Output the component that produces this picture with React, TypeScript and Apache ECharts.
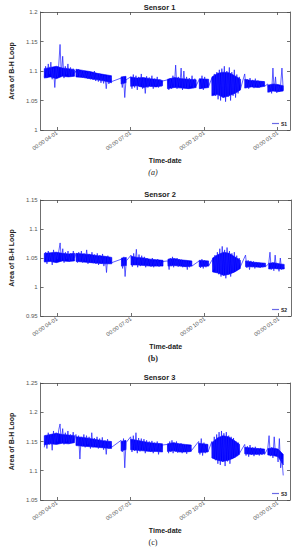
import React, { useEffect, useRef } from "react";
import * as echarts from "echarts";

// x in months from 04-01 (0 = 04-01, 3 = 07-01, 6 = 10-01, 9 = 01-01)
const TICK_VALUES = [0, 3, 6, 9];
const TICK_LABELS = ["00:00 04-01", "00:00 07-01", "00:00 10-01", "00:00 01-01"];
const SENSOR_NAMES = ["S1", "S2", "S3"];
const TITLES = ["Sensor 1", "Sensor 2", "Sensor 3"];
const CAPTIONS = ["(a)", "(b)", "(c)"];
const Y_RANGES = [
  [1.0, 1.2],
  [0.95, 1.15],
  [1.05, 1.25],
];

// recording spans (months) per sensor
const S1_SPANS = [
  [-0.51, 0.72], [0.78, 2.23], [2.62, 2.82], [3.01, 4.31], [4.51, 5.68],
  [5.81, 6.19], [6.32, 7.49], [7.66, 8.47], [8.6, 9.23],
];
const S2_SPANS = [
  [-0.51, 0.72], [0.78, 2.23], [2.62, 2.82], [3.01, 4.31], [4.51, 5.48],
  [5.78, 6.16], [6.32, 7.45], [7.66, 8.47], [8.6, 9.23],
];
const S3_SPANS = [
  [-0.51, 0.72], [0.78, 2.23], [2.62, 2.82], [3.01, 4.31], [4.51, 5.48],
  [5.78, 6.16], [6.32, 7.45], [7.66, 8.47], [8.6, 9.23],
];

// dense core band (lower / upper envelope) per recording span
const S1_LOW = [
  [1.088, 1.09, 1.087, 1.091, 1.09, 1.091],
  [1.09, 1.089, 1.087, 1.085, 1.083, 1.08],
  [1.078, 1.08],
  [1.074, 1.075, 1.072, 1.074, 1.073, 1.075],
  [1.07, 1.072, 1.071, 1.07, 1.072],
  [1.07, 1.072],
  [1.058, 1.06, 1.055, 1.058, 1.062, 1.068],
  [1.071, 1.073, 1.072, 1.074],
  [1.064, 1.066, 1.065, 1.066],
];
const S1_HIGH = [
  [1.104, 1.106, 1.108, 1.105, 1.104, 1.102],
  [1.103, 1.101, 1.099, 1.096, 1.094, 1.092],
  [1.09, 1.091],
  [1.09, 1.088, 1.089, 1.087, 1.086, 1.084],
  [1.086, 1.089, 1.087, 1.086, 1.085],
  [1.087, 1.086],
  [1.09, 1.096, 1.098, 1.097, 1.092, 1.086],
  [1.086, 1.084, 1.083, 1.082],
  [1.076, 1.078, 1.077, 1.075],
];
const S2_LOW = [
  [1.043, 1.044, 1.042, 1.045, 1.044, 1.045],
  [1.044, 1.043, 1.042, 1.041, 1.04, 1.04],
  [1.036, 1.037],
  [1.038, 1.038, 1.037, 1.036, 1.036, 1.036],
  [1.036, 1.037, 1.036, 1.035, 1.036],
  [1.035, 1.036],
  [1.026, 1.024, 1.02, 1.022, 1.026, 1.032],
  [1.035, 1.035, 1.034, 1.035],
  [1.031, 1.032, 1.031, 1.031],
];
const S2_HIGH = [
  [1.058, 1.059, 1.06, 1.058, 1.057, 1.058],
  [1.058, 1.057, 1.056, 1.054, 1.053, 1.051],
  [1.05, 1.051],
  [1.053, 1.051, 1.05, 1.048, 1.047, 1.046],
  [1.048, 1.049, 1.047, 1.046, 1.045],
  [1.046, 1.045],
  [1.05, 1.056, 1.06, 1.058, 1.052, 1.046],
  [1.045, 1.043, 1.042, 1.041],
  [1.041, 1.042, 1.04, 1.039],
];
const S3_LOW = [
  [1.144, 1.146, 1.145, 1.147, 1.146, 1.148],
  [1.143, 1.142, 1.141, 1.14, 1.139, 1.138],
  [1.134, 1.136],
  [1.136, 1.135, 1.134, 1.133, 1.133, 1.132],
  [1.133, 1.134, 1.132, 1.132, 1.133],
  [1.131, 1.132],
  [1.122, 1.118, 1.116, 1.118, 1.122, 1.128],
  [1.129, 1.128, 1.128, 1.129],
  [1.127, 1.126, 1.124, 1.11],
];
const S3_HIGH = [
  [1.16, 1.162, 1.164, 1.162, 1.161, 1.16],
  [1.158, 1.157, 1.155, 1.153, 1.151, 1.15],
  [1.15, 1.152],
  [1.154, 1.152, 1.15, 1.148, 1.147, 1.146],
  [1.146, 1.148, 1.146, 1.145, 1.144],
  [1.147, 1.145],
  [1.148, 1.156, 1.16, 1.158, 1.152, 1.145],
  [1.14, 1.139, 1.138, 1.137],
  [1.138, 1.139, 1.137, 1.128],
];

// raw readings (spikes around the core)
const S1_VALUES = [
  [1.09, 1.108, 1.088, 1.112, 1.095, 1.115, 1.086, 1.104, 1.072, 1.106, 1.09, 1.11, 1.145, 1.092, 1.125, 1.088, 1.108, 1.094, 1.112, 1.09, 1.106, 1.092, 1.104, 1.096],
  [1.1, 1.092, 1.103, 1.09, 1.101, 1.089, 1.1, 1.088, 1.098, 1.087, 1.099, 1.086, 1.097, 1.085, 1.1, 1.083, 1.096, 1.082, 1.095, 1.08, 1.094, 1.079, 1.092, 1.07, 1.093, 1.078, 1.09, 1.082],
  [1.088, 1.072, 1.09, 1.055, 1.085],
  [1.09, 1.07, 1.094, 1.072, 1.092, 1.068, 1.09, 1.073, 1.095, 1.07, 1.088, 1.062, 1.091, 1.072, 1.089, 1.074, 1.092, 1.07, 1.087, 1.075, 1.09, 1.072, 1.086, 1.074, 1.083],
  [1.085, 1.068, 1.088, 1.07, 1.092, 1.072, 1.11, 1.07, 1.09, 1.074, 1.105, 1.068, 1.1, 1.072, 1.09, 1.07, 1.088, 1.074, 1.092, 1.071, 1.087, 1.075],
  [1.086, 1.07, 1.092, 1.068, 1.09, 1.072, 1.085, 1.074],
  [1.088, 1.062, 1.095, 1.058, 1.098, 1.052, 1.102, 1.05, 1.104, 1.055, 1.108, 1.048, 1.1, 1.056, 1.106, 1.05, 1.098, 1.058, 1.102, 1.055, 1.094, 1.062, 1.09, 1.07],
  [1.095, 1.072, 1.086, 1.07, 1.088, 1.073, 1.085, 1.071, 1.087, 1.074, 1.084, 1.072, 1.083, 1.075, 1.082, 1.074],
  [1.078, 1.064, 1.076, 1.062, 1.105, 1.066, 1.09, 1.063, 1.075, 1.065, 1.077, 1.105, 1.068],
];
const S2_VALUES = [
  [1.045, 1.06, 1.04, 1.062, 1.046, 1.058, 1.038, 1.064, 1.044, 1.06, 1.048, 1.062, 1.076, 1.046, 1.066, 1.042, 1.06, 1.048, 1.062, 1.044, 1.058, 1.046, 1.062, 1.05],
  [1.058, 1.042, 1.06, 1.044, 1.062, 1.042, 1.058, 1.045, 1.064, 1.04, 1.057, 1.043, 1.06, 1.041, 1.056, 1.04, 1.058, 1.038, 1.055, 1.04, 1.057, 1.036, 1.052, 1.025, 1.054, 1.04, 1.05, 1.042],
  [1.048, 1.032, 1.052, 1.018, 1.045],
  [1.055, 1.035, 1.058, 1.038, 1.065, 1.034, 1.056, 1.036, 1.054, 1.038, 1.052, 1.034, 1.05, 1.037, 1.048, 1.035, 1.05, 1.034, 1.046, 1.036, 1.048, 1.035, 1.045, 1.037, 1.044],
  [1.045, 1.03, 1.05, 1.036, 1.052, 1.034, 1.049, 1.037, 1.05, 1.035, 1.048, 1.036, 1.047, 1.034, 1.046, 1.035, 1.045, 1.03, 1.044, 1.034, 1.043, 1.036],
  [1.045, 1.033, 1.048, 1.032, 1.046, 1.034, 1.044, 1.036],
  [1.048, 1.03, 1.055, 1.025, 1.06, 1.022, 1.066, 1.018, 1.07, 1.02, 1.064, 1.015, 1.068, 1.022, 1.062, 1.018, 1.058, 1.025, 1.06, 1.028, 1.054, 1.03, 1.05, 1.035],
  [1.055, 1.033, 1.046, 1.03, 1.045, 1.034, 1.044, 1.032, 1.043, 1.035, 1.042, 1.033, 1.041, 1.034, 1.04, 1.035],
  [1.04, 1.06, 1.03, 1.042, 1.028, 1.055, 1.032, 1.04, 1.027, 1.05, 1.03, 1.038, 1.032],
];
const S3_VALUES = [
  [1.14, 1.16, 1.138, 1.165, 1.145, 1.162, 1.135, 1.168, 1.146, 1.165, 1.15, 1.17, 1.18, 1.148, 1.172, 1.145, 1.165, 1.15, 1.168, 1.146, 1.162, 1.148, 1.166, 1.152],
  [1.162, 1.145, 1.16, 1.12, 1.158, 1.142, 1.162, 1.14, 1.16, 1.145, 1.158, 1.138, 1.165, 1.14, 1.156, 1.142, 1.158, 1.138, 1.155, 1.14, 1.157, 1.136, 1.152, 1.128, 1.154, 1.138, 1.15, 1.14],
  [1.152, 1.132, 1.155, 1.105, 1.148],
  [1.158, 1.132, 1.16, 1.134, 1.165, 1.13, 1.156, 1.133, 1.155, 1.135, 1.154, 1.13, 1.152, 1.134, 1.15, 1.132, 1.151, 1.13, 1.148, 1.134, 1.15, 1.128, 1.146, 1.133, 1.144],
  [1.145, 1.13, 1.15, 1.132, 1.152, 1.13, 1.148, 1.133, 1.15, 1.131, 1.146, 1.132, 1.147, 1.13, 1.145, 1.133, 1.144, 1.129, 1.143, 1.132, 1.142, 1.134],
  [1.15, 1.128, 1.155, 1.126, 1.148, 1.13, 1.145, 1.132],
  [1.15, 1.122, 1.158, 1.118, 1.162, 1.112, 1.166, 1.11, 1.168, 1.115, 1.164, 1.108, 1.166, 1.116, 1.16, 1.112, 1.158, 1.12, 1.156, 1.122, 1.15, 1.125, 1.148, 1.13],
  [1.145, 1.126, 1.142, 1.124, 1.144, 1.127, 1.14, 1.125, 1.141, 1.128, 1.138, 1.126, 1.139, 1.127, 1.136, 1.128],
  [1.138, 1.16, 1.125, 1.14, 1.122, 1.158, 1.128, 1.136, 1.115, 1.155, 1.105, 1.12, 1.092],
];

const ALL_SPANS = [S1_SPANS, S2_SPANS, S3_SPANS];
const ALL_VALUES = [S1_VALUES, S2_VALUES, S3_VALUES];
const ALL_LOW = [S1_LOW, S2_LOW, S3_LOW];
const ALL_HIGH = [S1_HIGH, S2_HIGH, S3_HIGH];

function spread(spans: number[][], segs: number[][]) {
  const out: number[][] = [];
  segs.forEach((vals, k) => {
    const [a, b] = spans[k];
    vals.forEach((v, i) => {
      out.push([a + ((b - a) * i) / (vals.length - 1), v]);
    });
  });
  return out;
}

const GRIDS = [
  { left: 29, top: 12, width: 261, height: 118 },
  { left: 29, top: 200, width: 262, height: 116 },
  { left: 29, top: 383, width: 261, height: 117 },
];
const TITLE_TOPS = [3, 190, 373];
const CAPTION_YS = [172, 358, 542];
const LEGEND_TOPS = [121, 307, 491];

const X_MIN = -0.662;
const X_MAX = 9.506;
const AXIS_COLOR = "#4a4a4a";
const BLUE = "#0000ff";
const LEGEND_BLUE = "#6a6ae6";
const FONT = "Arial, 'Liberation Sans', sans-serif";

export default function App() {
  const ref = useRef<HTMLDivElement>(null);
  useEffect(() => {
    if (!ref.current) return;
    const chart = echarts.init(ref.current, undefined, { renderer: "svg" });
    const xAxis: any[] = [];
    const yAxis: any[] = [];
    const series: any[] = [];
    const title: any[] = [];
    const legend: any[] = [];
    const graphic: any[] = [];
    GRIDS.forEach((g, k) => {
      const tickStyle = { show: true, inside: true, length: 3, lineStyle: { color: AXIS_COLOR, width: 0.8 } };
      const lineStyle = { show: true, onZero: false, lineStyle: { color: AXIS_COLOR, width: 0.8 } };
      xAxis.push({
        type: "value",
        gridIndex: k,
        min: X_MIN,
        max: X_MAX,
        position: "bottom",
        axisLine: lineStyle,
        axisTick: { ...tickStyle, customValues: TICK_VALUES },
        axisLabel: {
          customValues: TICK_VALUES,
          formatter: (v: number) => TICK_LABELS[TICK_VALUES.indexOf(Math.round(v))] ?? "",
          rotate: 35,
          fontSize: 5.5,
          color: "#555",
          margin: 2,
          fontFamily: FONT,
        },
        splitLine: { show: false },
        name: "Time-date",
        nameLocation: "middle",
        nameGap: 27,
        nameTextStyle: { fontWeight: "bold", fontSize: 7, color: "#222", fontFamily: FONT },
      });
      xAxis.push({
        type: "value",
        gridIndex: k,
        min: X_MIN,
        max: X_MAX,
        position: "top",
        axisLine: lineStyle,
        axisTick: { ...tickStyle, customValues: TICK_VALUES },
        axisLabel: { show: false },
        splitLine: { show: false },
      });
      const [ymin, ymax] = Y_RANGES[k];
      yAxis.push({
        type: "value",
        gridIndex: k,
        min: ymin,
        max: ymax,
        interval: 0.05,
        position: "left",
        axisLine: lineStyle,
        axisTick: tickStyle,
        axisLabel: { fontSize: 6, color: "#555", margin: 3, fontFamily: FONT },
        splitLine: { show: false },
        name: "Area of B-H Loop",
        nameLocation: "middle",
        nameGap: 15,
        nameRotate: 90,
        nameTextStyle: { fontWeight: "bold", fontSize: 7, color: "#222", fontFamily: FONT },
      });
      yAxis.push({
        type: "value",
        gridIndex: k,
        min: ymin,
        max: ymax,
        interval: 0.05,
        position: "right",
        axisLine: lineStyle,
        axisTick: tickStyle,
        axisLabel: { show: false },
        splitLine: { show: false },
      });
      const spans = ALL_SPANS[k];
      const lows = ALL_LOW[k];
      const highs = ALL_HIGH[k];
      series.push({
        name: SENSOR_NAMES[k] + " core",
        type: "custom",
        xAxisIndex: 2 * k,
        yAxisIndex: 2 * k,
        silent: true,
        data: spans.map((sp, s) => [(sp[0] + sp[1]) / 2, lows[s][0], s]),
        renderItem: (params: any, api: any) => {
          const s = api.value(2);
          const [a, b] = spans[s];
          const lo = lows[s];
          const hi = highs[s];
          const n = lo.length;
          const pts: number[][] = [];
          for (let i = 0; i < n; i++) pts.push(api.coord([a + ((b - a) * i) / (n - 1), hi[i]]));
          for (let i = n - 1; i >= 0; i--) pts.push(api.coord([a + ((b - a) * i) / (n - 1), lo[i]]));
          return {
            type: "polygon",
            shape: { points: pts },
            style: { fill: BLUE, stroke: BLUE, lineWidth: 0.6 },
          };
        },
      });
      series.push({
        name: SENSOR_NAMES[k],
        type: "line",
        color: BLUE,
        xAxisIndex: 2 * k,
        yAxisIndex: 2 * k,
        data: spread(spans, ALL_VALUES[k]),
        showSymbol: false,
        symbol: "circle",
        lineStyle: { color: "#1a1aff", width: 0.7 },
        itemStyle: { color: BLUE },
      });
      title.push({
        text: TITLES[k],
        left: g.left + g.width / 2,
        textAlign: "center",
        top: TITLE_TOPS[k],
        textStyle: { fontSize: 7.5, fontWeight: "bold", color: "#222", fontFamily: FONT },
        padding: 0,
      });
      legend.push({
        data: [{ name: SENSOR_NAMES[k], icon: "rect", itemStyle: { color: LEGEND_BLUE } }],
        left: 272,
        top: LEGEND_TOPS[k],
        itemWidth: 7,
        itemHeight: 1.2,
        itemGap: 0,
        padding: 0,
        itemStyle: { color: LEGEND_BLUE, borderWidth: 0 },
        lineStyle: { color: LEGEND_BLUE, width: 1 },
        textStyle: { fontSize: 5, fontWeight: "bold", color: "#222", padding: [0, 0, 0, -3], fontFamily: FONT },
      });
      graphic.push({
        type: "text",
        x: 153,
        y: CAPTION_YS[k],
        style: {
          text: CAPTIONS[k],
          font: (k === 0 ? "italic " : k === 1 ? "bold " : "") + "8px 'Liberation Serif', serif",
          fill: "#222",
          textAlign: "center",
          textVerticalAlign: "middle",
        },
      });
    });
    chart.setOption({
      animation: false,
      backgroundColor: "#ffffff",
      grid: GRIDS,
      xAxis,
      yAxis,
      series,
      title,
      legend,
      graphic,
    });
    return () => chart.dispose();
  }, []);
  return (
    <div
      ref={ref}
      style={{ position: "fixed", left: 0, top: 0, width: 300, height: 550, background: "#fff" }}
    />
  );
}
